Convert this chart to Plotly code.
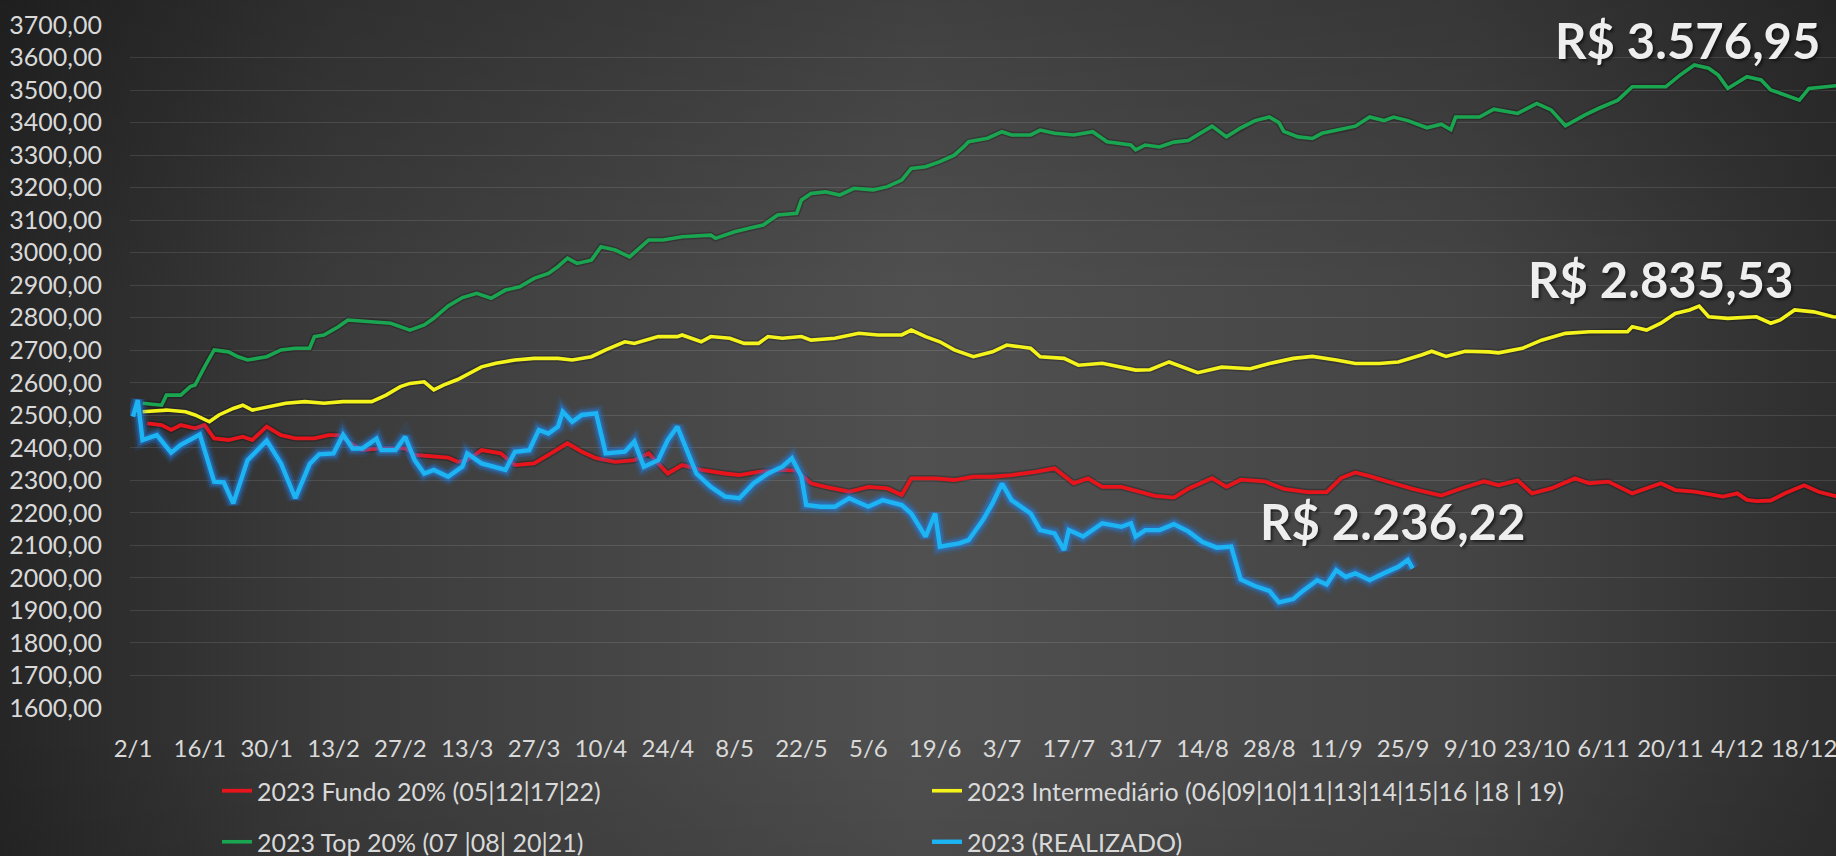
import base64
import plotly.graph_objects as go

# ---------------------------------------------------------------- data
tick_dates = ["2023-01-02", "2023-01-16", "2023-01-30", "2023-02-13", "2023-02-27",
              "2023-03-13", "2023-03-27", "2023-04-10", "2023-04-24", "2023-05-08",
              "2023-05-22", "2023-06-05", "2023-06-19", "2023-07-03", "2023-07-17",
              "2023-07-31", "2023-08-14", "2023-08-28", "2023-09-11", "2023-09-25",
              "2023-10-09", "2023-10-23", "2023-11-06", "2023-11-20", "2023-12-04",
              "2023-12-18"]
tick_labels = ["2/1", "16/1", "30/1", "13/2", "27/2", "13/3", "27/3", "10/4", "24/4",
               "8/5", "22/5", "5/6", "19/6", "3/7", "17/7", "31/7", "14/8", "28/8",
               "11/9", "25/9", "9/10", "23/10", "6/11", "20/11", "4/12", "18/12"]

fundo_dates = ["2023-01-05", "2023-01-08", "2023-01-10", "2023-01-12", "2023-01-15",
               "2023-01-17", "2023-01-19", "2023-01-22", "2023-01-25", "2023-01-27",
               "2023-01-30", "2023-02-02", "2023-02-05", "2023-02-09", "2023-02-12",
               "2023-02-14", "2023-02-16", "2023-02-19", "2023-02-23", "2023-02-28",
               "2023-03-02", "2023-03-06", "2023-03-09", "2023-03-11", "2023-03-13",
               "2023-03-16", "2023-03-20", "2023-03-23", "2023-03-27", "2023-03-30",
               "2023-04-03", "2023-04-06", "2023-04-09", "2023-04-13", "2023-04-17",
               "2023-04-20", "2023-04-24", "2023-04-27", "2023-05-01", "2023-05-06",
               "2023-05-09", "2023-05-13", "2023-05-18", "2023-05-21", "2023-05-24",
               "2023-05-27", "2023-06-01", "2023-06-05", "2023-06-09", "2023-06-12",
               "2023-06-14", "2023-06-19", "2023-06-23", "2023-06-27", "2023-07-01",
               "2023-07-05", "2023-07-10", "2023-07-14", "2023-07-18", "2023-07-21",
               "2023-07-24", "2023-07-28", "2023-08-01", "2023-08-04", "2023-08-08",
               "2023-08-11", "2023-08-16", "2023-08-19", "2023-08-22", "2023-08-27",
               "2023-08-31", "2023-09-05", "2023-09-09", "2023-09-12", "2023-09-15",
               "2023-09-18", "2023-09-23", "2023-09-27", "2023-10-03", "2023-10-07",
               "2023-10-12", "2023-10-15", "2023-10-19", "2023-10-22", "2023-10-26",
               "2023-10-31", "2023-11-03", "2023-11-07", "2023-11-12", "2023-11-18",
               "2023-11-21", "2023-11-25", "2023-12-01", "2023-12-04", "2023-12-06",
               "2023-12-08", "2023-12-11", "2023-12-14", "2023-12-18", "2023-12-21",
               "2023-12-25"]
fundo_vals = [2475, 2470, 2455, 2470, 2460, 2470, 2429, 2424, 2434, 2424,
              2465, 2439, 2429, 2429, 2439, 2439, 2420, 2393, 2398, 2398,
              2378, 2373, 2370, 2357, 2362, 2393, 2383, 2347, 2352, 2378,
              2414, 2388, 2368, 2357, 2362, 2383, 2321, 2347, 2332, 2321,
              2316, 2326, 2332, 2330, 2291, 2280, 2265, 2280, 2275, 2255,
              2306, 2306, 2301, 2311, 2311, 2316, 2326, 2337, 2291, 2306,
              2280, 2280, 2265, 2252, 2247, 2274, 2307, 2280, 2302, 2297,
              2274, 2264, 2264, 2307, 2324, 2313, 2291, 2274, 2253, 2274,
              2297, 2285, 2300, 2260, 2275, 2306, 2291, 2296, 2260, 2291,
              2270, 2265, 2250, 2260, 2240, 2236.22, 2238, 2260, 2285, 2265,
              2250]

inter_dates = ["2023-01-04", "2023-01-09", "2023-01-13", "2023-01-15", "2023-01-18",
               "2023-01-20", "2023-01-23", "2023-01-25", "2023-01-27", "2023-01-30",
               "2023-02-03", "2023-02-07", "2023-02-11", "2023-02-15", "2023-02-21",
               "2023-02-24", "2023-02-27", "2023-03-01", "2023-03-04", "2023-03-06",
               "2023-03-08", "2023-03-11", "2023-03-13", "2023-03-16", "2023-03-19",
               "2023-03-23", "2023-03-27", "2023-04-01", "2023-04-04", "2023-04-08",
               "2023-04-11", "2023-04-15", "2023-04-17", "2023-04-22", "2023-04-26",
               "2023-04-27", "2023-05-01", "2023-05-03", "2023-05-07", "2023-05-10",
               "2023-05-13", "2023-05-15", "2023-05-18", "2023-05-22", "2023-05-24",
               "2023-05-29", "2023-06-03", "2023-06-07", "2023-06-12", "2023-06-14",
               "2023-06-17", "2023-06-20", "2023-06-23", "2023-06-27", "2023-07-01",
               "2023-07-04", "2023-07-09", "2023-07-11", "2023-07-16", "2023-07-19",
               "2023-07-24", "2023-07-28", "2023-07-31", "2023-08-03", "2023-08-07",
               "2023-08-13", "2023-08-18", "2023-08-24", "2023-08-28", "2023-09-02",
               "2023-09-06", "2023-09-11", "2023-09-15", "2023-09-20", "2023-09-24",
               "2023-09-29", "2023-10-01", "2023-10-04", "2023-10-08", "2023-10-13",
               "2023-10-15", "2023-10-20", "2023-10-24", "2023-10-29", "2023-11-03",
               "2023-11-07", "2023-11-11", "2023-11-12", "2023-11-15", "2023-11-18",
               "2023-11-21", "2023-11-24", "2023-11-26", "2023-11-28", "2023-12-02",
               "2023-12-08", "2023-12-11", "2023-12-13", "2023-12-16", "2023-12-20",
               "2023-12-24", "2023-12-26"]
inter_vals = [2511, 2516, 2511, 2501, 2480, 2501, 2521, 2531, 2516, 2526,
              2537, 2542, 2537, 2542, 2542, 2562, 2588, 2598, 2603, 2578,
              2593, 2610, 2625, 2649, 2660, 2670, 2675, 2675, 2670, 2680,
              2701, 2726, 2721, 2742, 2742, 2747, 2726, 2742, 2737, 2721,
              2721, 2742, 2737, 2742, 2731, 2737, 2752, 2747, 2747, 2762,
              2742, 2726, 2701, 2680, 2695, 2716, 2706, 2680, 2675, 2654,
              2660, 2649, 2639, 2640, 2664, 2631, 2648, 2643, 2659, 2675,
              2681, 2670, 2659, 2659, 2664, 2686, 2697, 2681, 2697, 2695,
              2692, 2706, 2731, 2752, 2757, 2757, 2757, 2772, 2762, 2783,
              2813, 2824, 2835.53, 2803, 2798, 2803, 2783, 2793, 2824, 2818,
              2803, 2800]

top_dates = ["2023-01-04", "2023-01-08", "2023-01-09", "2023-01-12", "2023-01-14",
             "2023-01-15", "2023-01-17", "2023-01-19", "2023-01-22", "2023-01-24",
             "2023-01-26", "2023-01-30", "2023-02-02", "2023-02-05", "2023-02-08",
             "2023-02-09", "2023-02-11", "2023-02-14", "2023-02-16", "2023-02-21",
             "2023-02-25", "2023-03-01", "2023-03-04", "2023-03-06", "2023-03-09",
             "2023-03-12", "2023-03-15", "2023-03-18", "2023-03-21", "2023-03-24",
             "2023-03-27", "2023-03-30", "2023-04-01", "2023-04-03", "2023-04-05",
             "2023-04-08", "2023-04-10", "2023-04-13", "2023-04-16", "2023-04-20",
             "2023-04-23", "2023-04-27", "2023-05-03", "2023-05-04", "2023-05-08",
             "2023-05-11", "2023-05-14", "2023-05-17", "2023-05-21", "2023-05-22",
             "2023-05-24", "2023-05-27", "2023-05-30", "2023-06-02", "2023-06-06",
             "2023-06-09", "2023-06-12", "2023-06-14", "2023-06-17", "2023-06-20",
             "2023-06-23", "2023-06-25", "2023-06-26", "2023-06-30", "2023-07-03",
             "2023-07-05", "2023-07-09", "2023-07-11", "2023-07-14", "2023-07-18",
             "2023-07-22", "2023-07-25", "2023-07-28", "2023-07-30", "2023-07-31",
             "2023-08-02", "2023-08-05", "2023-08-08", "2023-08-11", "2023-08-13",
             "2023-08-16", "2023-08-19", "2023-08-22", "2023-08-25", "2023-08-28",
             "2023-08-30", "2023-08-31", "2023-09-03", "2023-09-06", "2023-09-08",
             "2023-09-12", "2023-09-15", "2023-09-18", "2023-09-21", "2023-09-23",
             "2023-09-26", "2023-09-30", "2023-10-03", "2023-10-05", "2023-10-06",
             "2023-10-11", "2023-10-14", "2023-10-17", "2023-10-19", "2023-10-23",
             "2023-10-26", "2023-10-29", "2023-11-02", "2023-11-05", "2023-11-09",
             "2023-11-12", "2023-11-16", "2023-11-19", "2023-11-22", "2023-11-25",
             "2023-11-28", "2023-11-30", "2023-12-02", "2023-12-06", "2023-12-09",
             "2023-12-11", "2023-12-14", "2023-12-17", "2023-12-19", "2023-12-23",
             "2023-12-26"]
top_vals = [2537, 2531, 2562, 2562, 2588, 2593, 2649, 2701, 2695, 2680,
            2670, 2680, 2701, 2706, 2706, 2742, 2747, 2772, 2793, 2788,
            2783, 2762, 2778, 2798, 2836, 2862, 2875, 2860, 2885, 2895,
            2921, 2936, 2957, 2983, 2967, 2977, 3018, 3008, 2987, 3039,
            3039, 3049, 3054, 3044, 3064, 3075, 3085, 3116, 3121, 3162,
            3182, 3187, 3177, 3198, 3193, 3203, 3223, 3259, 3264, 3280,
            3300, 3326, 3341, 3352, 3372, 3362, 3362, 3377, 3367, 3362,
            3372, 3341, 3336, 3331, 3316, 3331, 3325, 3340, 3345, 3362,
            3389, 3356, 3384, 3406, 3417, 3400, 3373, 3356, 3351, 3367,
            3378, 3389, 3417, 3406, 3417, 3406, 3384, 3395, 3378, 3417,
            3417, 3441, 3433, 3428, 3459, 3439, 3390, 3423, 3444, 3469,
            3510, 3510, 3510, 3546, 3576.95, 3567, 3546, 3505, 3541, 3531,
            3500, 3485, 3469, 3505, 3510, 3515]

real_dates = ["2023-01-02", "2023-01-03", "2023-01-04", "2023-01-07", "2023-01-10",
              "2023-01-12", "2023-01-16", "2023-01-19", "2023-01-21", "2023-01-23",
              "2023-01-26", "2023-01-30", "2023-02-02", "2023-02-05", "2023-02-08",
              "2023-02-10", "2023-02-13", "2023-02-15", "2023-02-17", "2023-02-19",
              "2023-02-22", "2023-02-23", "2023-02-26", "2023-02-28", "2023-03-02",
              "2023-03-04", "2023-03-06", "2023-03-09", "2023-03-12", "2023-03-13",
              "2023-03-16", "2023-03-21", "2023-03-23", "2023-03-26", "2023-03-28",
              "2023-03-30", "2023-04-01", "2023-04-02", "2023-04-04", "2023-04-06",
              "2023-04-09", "2023-04-11", "2023-04-15", "2023-04-17", "2023-04-19",
              "2023-04-22", "2023-04-24", "2023-04-26", "2023-04-28", "2023-04-30",
              "2023-05-03", "2023-05-06", "2023-05-09", "2023-05-12", "2023-05-15",
              "2023-05-18", "2023-05-20", "2023-05-22", "2023-05-23", "2023-05-26",
              "2023-05-29", "2023-06-01", "2023-06-05", "2023-06-08", "2023-06-12",
              "2023-06-14", "2023-06-17", "2023-06-19", "2023-06-20", "2023-06-24",
              "2023-06-26", "2023-06-29", "2023-07-01", "2023-07-03", "2023-07-05",
              "2023-07-09", "2023-07-11", "2023-07-14", "2023-07-16", "2023-07-17",
              "2023-07-20", "2023-07-24", "2023-07-28", "2023-07-30", "2023-07-31",
              "2023-08-02", "2023-08-05", "2023-08-08", "2023-08-11", "2023-08-14",
              "2023-08-17", "2023-08-20", "2023-08-22", "2023-08-25", "2023-08-28",
              "2023-08-30", "2023-09-02", "2023-09-04", "2023-09-07", "2023-09-09",
              "2023-09-11", "2023-09-13", "2023-09-15", "2023-09-18", "2023-09-21",
              "2023-09-24", "2023-09-26", "2023-09-27"]
real_vals = [2496, 2547, 2424, 2439, 2385, 2409, 2441, 2296, 2294, 2229,
             2362, 2422, 2352, 2245, 2350, 2380, 2383, 2440, 2398, 2398,
             2428, 2393, 2393, 2434, 2362, 2321, 2332, 2311, 2342, 2383,
             2352, 2332, 2388, 2393, 2455, 2444, 2465, 2511, 2480, 2501,
             2506, 2383, 2388, 2419, 2342, 2362, 2424, 2465, 2393, 2321,
             2280, 2250, 2245, 2291, 2321, 2342, 2368, 2311, 2224, 2219,
             2219, 2245, 2219, 2239, 2224, 2198, 2127, 2198, 2096, 2106,
             2116, 2178, 2229, 2290, 2239, 2198, 2147, 2137, 2086, 2147,
             2127, 2168, 2157, 2168, 2127, 2147, 2147, 2165, 2143, 2110,
             2093, 2096, 1995, 1975, 1960, 1925, 1935, 1960, 1993, 1980,
             2024, 2003, 2014, 1993, 2014, 2034, 2055, 2029]

series_names = ["2023 Fundo 20% (05|12|17|22)",
                "2023 Intermediário (06|09|10|11|13|14|15|16 |18 | 19)",
                "2023 Top 20% (07 |08| 20|21)",
                "2023 (REALIZADO)"]
callout_texts = ["R$ 3.576,95", "R$ 2.835,53", "R$ 2.236,22"]

# ---------------------------------------------------------------- style
FONT = "Lato, 'Open Sans', sans-serif"
TXT = "#d9d9d9"
RED, YELLOW, GREEN, BLUE = "#e8141c", "#f4f41c", "#1aa650", "#1cb4f2"

W, H = 1836, 856
L, R, T, B = 130, 0, 25, 148
PW, PH = W - L - R, H - T - B

fig = go.Figure()


def add_line(x, y, name, color, width, legend):
    # faint dark shadow under each series
    fig.add_trace(go.Scatter(x=x, y=y, mode="lines", showlegend=False, hoverinfo="skip",
                             line=dict(color="rgba(0,0,0,0.22)", width=width + 3)))
    fig.add_trace(go.Scatter(x=x, y=y, mode="lines", name=name, legend=legend,
                             line=dict(color=color, width=width)))


add_line(fundo_dates, fundo_vals, series_names[0], RED, 3.8, "legend")
add_line(inter_dates, inter_vals, series_names[1], YELLOW, 3.6, "legend")
add_line(top_dates, top_vals, series_names[2], GREEN, 3.6, "legend2")

# glow around the realised series
for w, a in [(17, 0.10), (12, 0.22), (8, 0.40)]:
    fig.add_trace(go.Scatter(x=real_dates, y=real_vals, mode="lines", showlegend=False,
                             hoverinfo="skip",
                             line=dict(color=f"rgba(30,130,240,{a})", width=w)))
fig.add_trace(go.Scatter(x=real_dates, y=real_vals, mode="lines", name=series_names[3],
                         legend="legend2", line=dict(color=BLUE, width=4.4)))

# callouts with the highlighted values
callout_pos = [("2023-11-23 16:00", 3654), ("2023-11-18 00:00", 2919),
               ("2023-09-22 17:00", 2175)]
for (cx, cy), txt in zip(callout_pos, callout_texts):
    fig.add_annotation(x=cx, y=cy, xref="x", yref="y", text=f"<b>{txt}</b>",
                       showarrow=False, xanchor="center", yanchor="middle",
                       font=dict(family=FONT, size=49, color="#eeeeee",
                                 shadow="2px 2px 3px rgba(0,0,0,0.55)"))

# gradient backdrop
svg = f"""<svg xmlns="http://www.w3.org/2000/svg" width="{W}" height="{H}" viewBox="0 0 {W} {H}" preserveAspectRatio="none">
<defs>
<linearGradient id="h" x1="0" y1="0" x2="1" y2="0">
<stop offset="0" stop-color="#262626"/>
<stop offset="0.18" stop-color="#3b3b3b"/>
<stop offset="0.5" stop-color="#505050"/>
<stop offset="0.8" stop-color="#444444"/>
<stop offset="1" stop-color="#2e2e2e"/>
</linearGradient>
<linearGradient id="v" x1="0" y1="0" x2="0" y2="1">
<stop offset="0" stop-color="#000" stop-opacity="0.2"/>
<stop offset="0.35" stop-color="#000" stop-opacity="0"/>
<stop offset="0.85" stop-color="#000" stop-opacity="0"/>
<stop offset="1" stop-color="#000" stop-opacity="0.08"/>
</linearGradient>
</defs>
<rect width="{W}" height="{H}" fill="url(#h)"/>
<rect width="{W}" height="{H}" fill="url(#v)"/>
</svg>"""
bg_src = "data:image/svg+xml;base64," + base64.b64encode(svg.encode()).decode()
fig.add_layout_image(source=bg_src, xref="paper", yref="paper",
                     x=-L / PW, y=1 + T / PH, sizex=W / PW, sizey=H / PH,
                     xanchor="left", yanchor="top", sizing="stretch", layer="below")

legend_style = dict(orientation="h", xanchor="left", yanchor="middle",
                    bgcolor="rgba(0,0,0,0)", borderwidth=0,
                    entrywidth=665, entrywidthmode="pixels",
                    font=dict(family=FONT, size=25, color=TXT))

fig.update_layout(
    width=W, height=H,
    margin=dict(l=L, r=R, t=T, b=B, pad=0, autoexpand=False),
    paper_bgcolor="#3a3a3a", plot_bgcolor="rgba(0,0,0,0)",
    separators=",.",
    showlegend=True,
    legend=dict(x=(217 - L) / PW, y=(T + PH - 791) / PH, **legend_style),
    legend2=dict(x=(217 - L) / PW, y=(T + PH - 842) / PH, **legend_style),
    xaxis=dict(type="date", range=["2023-01-01 09:00", "2023-12-24 16:00"],
               tickvals=tick_dates, ticktext=tick_labels, showgrid=False,
               zeroline=False, showline=False, ticks="", ticklabelstandoff=24,
               ticklabeloverflow="allow",
               tickfont=dict(family=FONT, size=24, color=TXT)),
    yaxis=dict(range=[1600, 3700], dtick=100, tick0=1600, tickformat=".2f",
               showgrid=True, gridcolor="rgba(255,255,255,0.11)", gridwidth=1,
               zeroline=False, showline=False, ticks="", ticklabelstandoff=27,
               tickfont=dict(family=FONT, size=25, color=TXT)),
)

fig.write_html("out.html")
